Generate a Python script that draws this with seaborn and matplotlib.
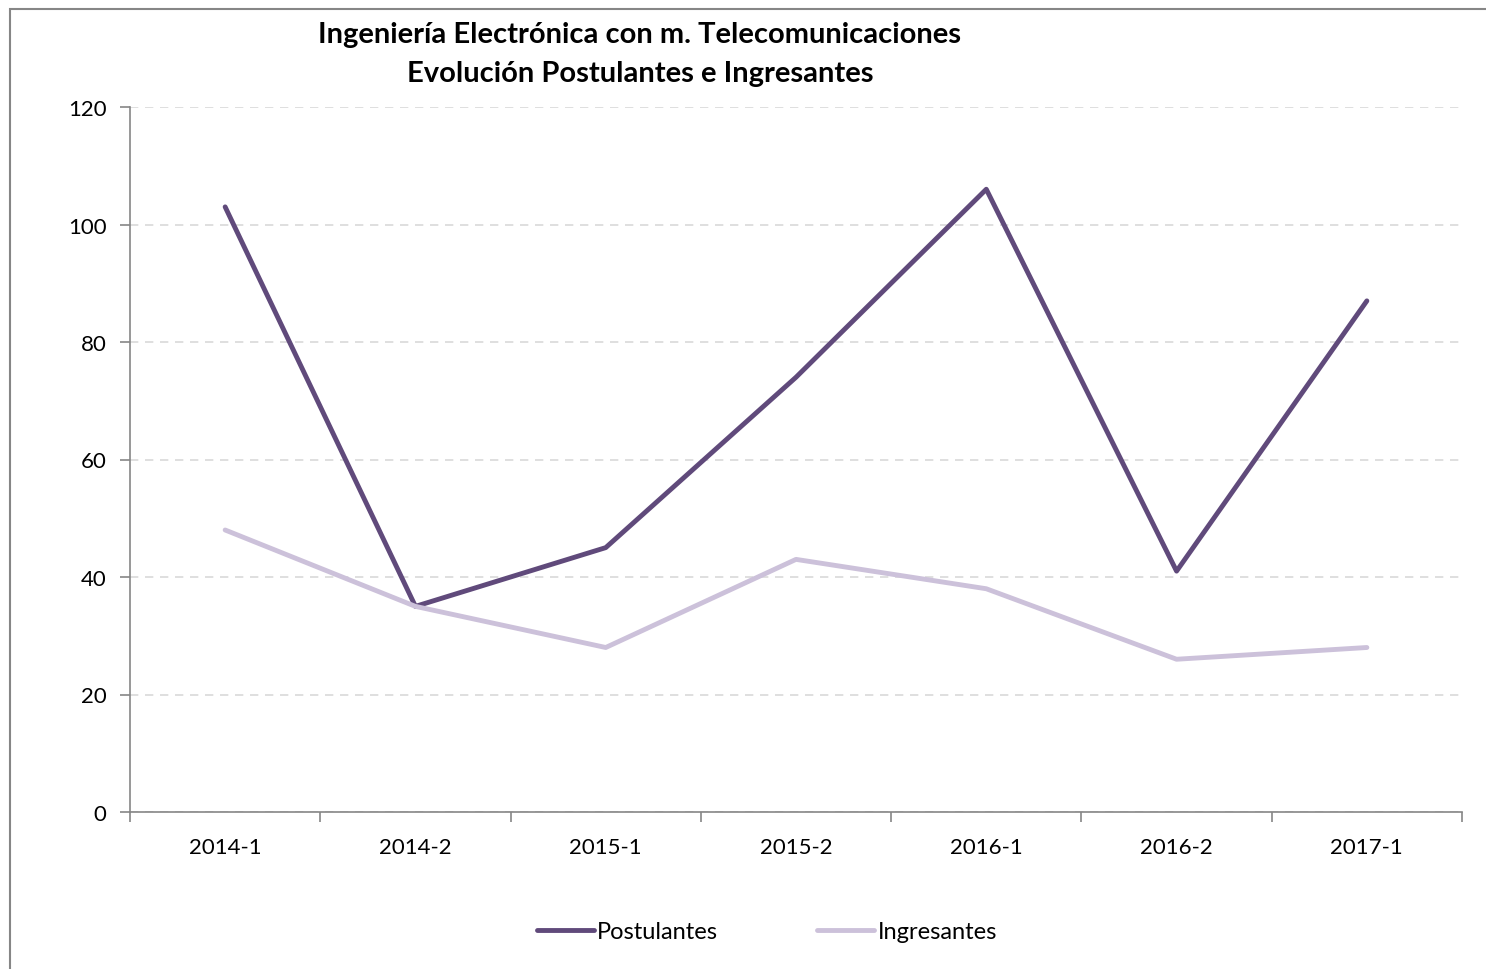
import matplotlib.pyplot as plt
import matplotlib.patches as mpatches
import seaborn as sns
import pandas as pd

periodos = ['2014-1', '2014-2', '2015-1', '2015-2', '2016-1', '2016-2', '2017-1']
postulantes = [103, 35, 45, 74, 106, 41, 87]
ingresantes = [48, 35, 28, 43, 38, 26, 28]
series = ['Postulantes', 'Ingresantes']
colores = ['#604a7b', '#ccc1da']

df = pd.DataFrame({
    'periodo': periodos * 2,
    'x': list(range(len(periodos))) * 2,
    'valor': postulantes + ingresantes,
    'serie': ['Postulantes'] * len(periodos) + ['Ingresantes'] * len(periodos),
})

sns.set_style('white')
plt.rcParams['font.family'] = ['Lato', 'DejaVu Sans']
plt.rcParams['text.color'] = 'black'
plt.rcParams['xtick.color'] = 'black'
plt.rcParams['ytick.color'] = 'black'

fig = plt.figure(figsize=(14.86, 9.70), dpi=100)
ax = fig.add_axes([130 / 1486, 157 / 970, 1332 / 1486, 705 / 970])

sns.lineplot(data=df, x='x', y='valor', hue='serie', hue_order=series,
             palette=colores, linewidth=3.5, ax=ax, legend=True)

ax.set_xlim(-0.5, len(periodos) - 0.5)
ax.set_ylim(0, 120)
ax.set_yticks(range(0, 121, 20))
ax.set_xticks(range(len(periodos)))
ax.set_xticklabels(periodos)
ax.set_xticks([i - 0.5 for i in range(len(periodos) + 1)], minor=True)
ax.tick_params(axis='x', which='major', bottom=False, length=0, labelsize=16, pad=18)
ax.tick_params(axis='x', which='minor', bottom=True, length=7, width=1.2,
               color='#868686', direction='out')
ax.tick_params(axis='y', left=True, length=7, width=1.2, color='#868686',
               labelcolor='black', direction='out', labelsize=16, pad=10)
ax.set_xlabel('')
ax.set_ylabel('')

ax.yaxis.grid(True, linestyle=(0, (5, 4)), color='#d9d9d9', linewidth=1.2)
ax.set_axisbelow(True)
for s in ['top', 'right']:
    ax.spines[s].set_visible(False)
for s in ['left', 'bottom']:
    ax.spines[s].set_color('#868686')
    ax.spines[s].set_linewidth(1.2)

handles, labels = ax.get_legend_handles_labels()
ax.legend(handles, labels, loc='center', bbox_to_anchor=(767 / 1486, 37 / 970),
          bbox_transform=fig.transFigure, ncol=2, frameon=False, fontsize=17,
          handlelength=2.4, handletextpad=0.15, columnspacing=4.2)

fig.text(640 / 1486, 1 - 35 / 970, 'Ingeniería Electrónica con m. Telecomunicaciones',
         ha='center', va='center', fontsize=21, fontweight='bold')
fig.text(640 / 1486, 1 - 74 / 970, 'Evolución Postulantes e Ingresantes',
         ha='center', va='center', fontsize=21, fontweight='bold')

fig.patches.append(mpatches.Rectangle((10 / 1486, -0.05), 1.1, 1.05 - 10 / 970,
                                      transform=fig.transFigure, fill=False,
                                      edgecolor='#868686', linewidth=1.5))

fig.savefig('out.png', dpi=100)
